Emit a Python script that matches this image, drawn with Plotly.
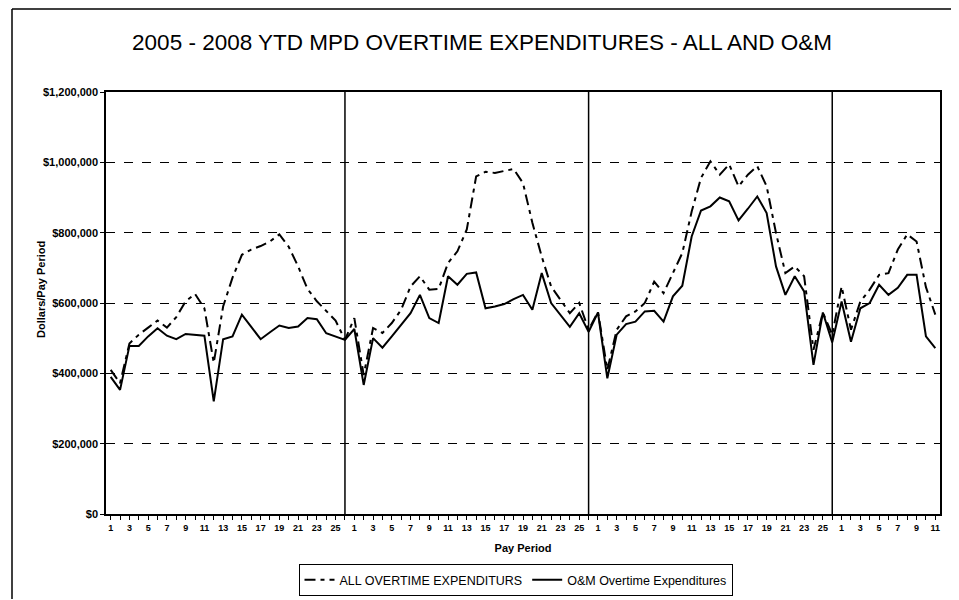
import plotly.graph_objects as go

# Pay periods per year (2005-2007 full years of 26, 2008 YTD 11)
periods_2005 = list(range(1, 27))
periods_2006 = list(range(1, 27))
periods_2007 = list(range(1, 27))
periods_2008 = list(range(1, 12))

# ALL OVERTIME EXPENDITURES (dollars per pay period)
all_2005 = [410000, 372000, 485000, 510000, 530000, 550000, 530000, 560000, 605000, 626000,
            585000, 430000, 590000, 672000, 737000, 752000, 762000, 775000, 795000, 760000,
            704000, 640000, 605000, 576000, 550000, 495000]
all_2006 = [557000, 395000, 529000, 515000, 543000, 581000, 647000, 676000, 638000, 640000,
            714000, 747000, 809000, 960000, 973000, 970000, 975000, 981000, 941000, 828000,
            732000, 647000, 609000, 571000, 600000, 524000]
all_2007 = [575000, 410000, 524000, 562000, 576000, 600000, 661000, 628000, 685000, 742000,
            860000, 956000, 1003000, 965000, 994000, 932000, 965000, 989000, 932000, 799000,
            685000, 704000, 676000, 467000, 573000, 510000]
all_2008 = [647000, 524000, 604000, 638000, 680000, 685000, 752000, 795000, 775000, 645000,
            567000]

# O&M Overtime Expenditures
om_2005 = [390000, 353000, 478000, 478000, 505000, 528000, 507000, 497000, 512000, 510000,
           507000, 320000, 497000, 505000, 567000, 532000, 497000, 517000, 536000, 529000,
           533000, 557000, 554000, 514000, 505000, 495000]
om_2006 = [526000, 367000, 500000, 473000, 505000, 538000, 571000, 623000, 557000, 543000,
           676000, 652000, 683000, 687000, 585000, 590000, 597000, 611000, 623000, 581000,
           685000, 600000, 567000, 532000, 571000, 518000]
om_2007 = [573000, 386000, 510000, 540000, 547000, 576000, 578000, 547000, 619000, 649000,
           789000, 863000, 875000, 900000, 889000, 835000, 868000, 903000, 856000, 704000,
           623000, 676000, 633000, 424000, 573000, 488000]
om_2008 = [604000, 490000, 585000, 600000, 652000, 623000, 643000, 680000, 680000, 505000,
           472000]

periods = periods_2005 + periods_2006 + periods_2007 + periods_2008
all_ot = all_2005 + all_2006 + all_2007 + all_2008
om_ot = om_2005 + om_2006 + om_2007 + om_2008
xs = list(range(len(periods)))
year_ends = [len(periods_2005) - 1,
             len(periods_2005) + len(periods_2006) - 1,
             len(periods_2005) + len(periods_2006) + len(periods_2007) - 1]

FONT = "Liberation Sans, Arial, sans-serif"

# page has an 8px body margin; figure is sized so the plot lands where the reference has it
W, H = 951, 592
ML, MR, MT, MB = 98, 19, 84, 86
PW, PH = W - ML - MR, H - MT - MB   # 834 x 422


def px_x(page_x):
    return (page_x - 8 - ML) / PW


def px_y(page_y):
    return (H - MB - (page_y - 8)) / PH


fig = go.Figure()
fig.add_trace(go.Scatter(
    x=xs, y=all_ot, mode="lines", name="ALL OVERTIME EXPENDITURS",
    line=dict(color="black", width=2, dash="11px,5px,4px,5px")))
fig.add_trace(go.Scatter(
    x=xs, y=om_ot, mode="lines", name="O&M Overtime Expenditures",
    line=dict(color="black", width=2)))

for xe in year_ends:
    fig.add_shape(type="line", xref="x", yref="y", x0=xe, x1=xe, y0=0, y1=1200000,
                  line=dict(color="black", width=1.5))

# outer chart border (drawn as separate edges inside the figure)
bx0, bx1, by0, by1 = px_x(12), px_x(952), px_y(599), px_y(9)
border = dict(color="black", width=1.5)
fig.add_shape(type="line", xref="paper", yref="paper", x0=bx0, x1=bx0, y0=by0, y1=by1, line=border)
fig.add_shape(type="line", xref="paper", yref="paper", x0=bx1, x1=bx1, y0=by0, y1=by1, line=border)
fig.add_shape(type="line", xref="paper", yref="paper", x0=bx0, x1=bx1, y0=by1, y1=by1, line=border)

fig.add_annotation(text="Dollars/Pay Period", xref="paper", yref="paper",
                   x=px_x(41), y=px_y(290), xanchor="center", yanchor="middle",
                   textangle=-90, showarrow=False,
                   font=dict(family=FONT, size=11, color="black", weight="bold"))

fig.update_layout(
    width=W, height=H,
    margin=dict(l=ML, r=MR, t=MT, b=MB),
    paper_bgcolor="white", plot_bgcolor="white",
    title=dict(text="2005 - 2008 YTD MPD OVERTIME EXPENDITURES - ALL AND O&M",
               x=(482 - 8) / W, xanchor="center", y=1 - (42 - 8) / H, yanchor="middle",
               font=dict(family=FONT, size=22.5, color="black")),
    showlegend=True,
    legend=dict(orientation="h", xanchor="center", yanchor="middle",
                xref="container", yref="container",
                x=(515.5 - 8) / W, y=1 - (580 - 8) / H,
                bordercolor="black", borderwidth=1, bgcolor="white",
                font=dict(family=FONT, size=12.5, color="black"),
                tracegroupgap=0),
    xaxis=dict(
        range=[-0.5, len(xs) - 0.5],
        tickmode="array", tickvals=xs,
        ticktext=[str(p) if p % 2 == 1 else "" for p in periods],
        tickangle=0,
        ticks="outside", ticklen=4, tickcolor="black",
        showline=True, linecolor="black", linewidth=1.5, mirror=True,
        showgrid=False, zeroline=False, automargin=False,
        tickfont=dict(family=FONT, size=9, color="black", weight="bold"),
        title=dict(text="Pay Period", standoff=13,
                   font=dict(family=FONT, size=11, color="black", weight="bold")),
    ),
    yaxis=dict(
        range=[0, 1200000], dtick=200000, tickformat="$,.0f",
        ticks="outside", ticklen=4, tickcolor="black",
        showline=True, linecolor="black", linewidth=1.5, mirror=True,
        showgrid=True, gridcolor="black", gridwidth=1, griddash="dash",
        zeroline=False, automargin=False,
        tickfont=dict(family=FONT, size=11, color="black", weight="bold"),
    ),
)

fig.write_html("out.html")
